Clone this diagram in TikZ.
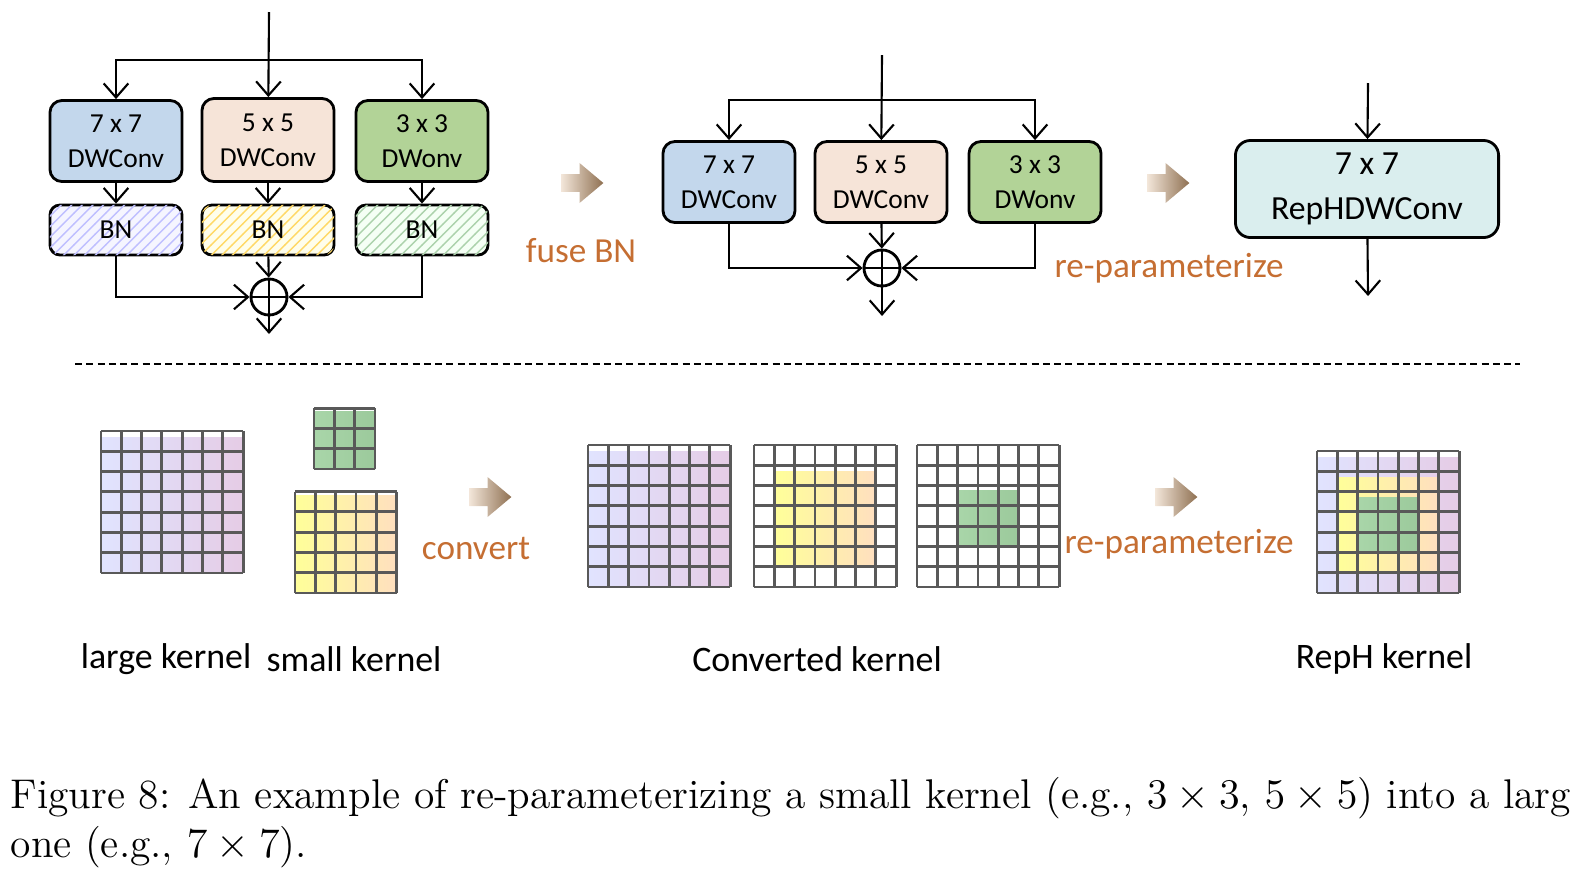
\documentclass[tikz,border=0pt]{standalone}
\usepackage{fontspec}
\newfontfamily\carl{Carlito}
\usepackage{tikz}
\usetikzlibrary{patterns}
\usetikzlibrary{positioning, arrows.meta, shapes.arrows, calc}

\definecolor{convblue}{HTML}{C3D7EC}
\definecolor{convpeach}{HTML}{F6E4D8}
\definecolor{convgreen}{HTML}{B2D397}
\definecolor{rephcol}{HTML}{DAEEEE}
\definecolor{labelorange}{HTML}{C56E32}
\definecolor{gridline}{HTML}{595959}

\tikzset{
    conv/.style={draw, thick, rounded corners=0.12cm, minimum width=1.32cm, minimum height=0.81cm, align=center, font=\carl\fontsize{7.8}{10}\selectfont},
    bn/.style={draw, thick, rounded corners=0.1cm, minimum width=1.32cm, minimum height=0.5cm, font=\carl\fontsize{7.8}{10}\selectfont},
    plus/.style={draw, thick, circle, minimum size=0.36cm, inner sep=0pt, path picture={
        \draw[thick] (path picture bounding box.north) -- (path picture bounding box.south)
                     (path picture bounding box.west) -- (path picture bounding box.east);}},
    flow/.style={-{Straight Barb[length=4pt,width=7pt]}, semithick},
    stage/.style={single arrow, minimum height=0.42cm, minimum width=0.4cm, single arrow head extend=0.07cm, single arrow tip angle=80, inner sep=0.05cm, left color=brown!20!white, right color=brown!60!black!80, draw=none},
    orange/.style={text=labelorange, font=\carl\fontsize{10}{12}\selectfont},
    caption/.style={font=\carl\fontsize{10.2}{12}\selectfont},
}

% kernel grid: lower-left corner, size n, cell size in px
\newcommand{\kernelgrid}[4]{%
    \foreach \k in {0,...,#3} {
        \draw[gridline, thick] ($(#1,#2)+(\k*#4,0)$) -- ++(0,-#3*#4);
        \draw[gridline, thick] ($(#1,#2)+(0,-\k*#4)$) -- ++(#3*#4,0);
    }
}

\begin{document}
\begin{tikzpicture}[x=0.01cm, y=-0.01cm]
    \useasboundingbox (0,0) rectangle (1571,878);
    % Training-time block
    \coordinate (inA) at (269,12);
    \node[conv, fill=convblue] (c7a) at (116,141) {7 x 7\\DWConv};
    \node[conv, fill=convpeach, minimum height=0.83cm] (c5a) at (268,140) {5 x 5\\DWConv};
    \node[conv, fill=convgreen] (c3a) at (422,141) {3 x 3\\DWonv};
    \node[bn, fill=blue!4, postaction={pattern=north east lines, pattern color=blue!25}] (b7) at (116,230) {BN};
    \node[bn, fill=yellow!8, postaction={pattern=north east lines, pattern color=yellow!50!orange!60}] (b5) at (268,230) {BN};
    \node[bn, fill=green!4, postaction={pattern=north east lines, pattern color=green!30!gray!50}] (b3) at (422,230) {BN};
    \node[plus] (pa) at (269,297) {};
    \coordinate (outA) at (269,334);
    \draw[flow] (inA) -- (c5a);
    \draw[flow] (inA|-0,60) coordinate (ja) -| (c7a);
    \draw[flow] (ja) -| (c3a);
    \draw[flow] (c7a) -- (b7);
    \draw[flow] (c5a) -- (b5);
    \draw[flow] (c3a) -- (b3);
    \draw[flow] (b5) -- (pa);
    \draw[flow] (b7) |- (pa);
    \draw[flow] (b3) |- (pa);
    \draw[flow] (pa) -- (outA);
    \node[stage] (s1) at (577,183) {};
    \node[orange] (l1) at (581,251) {fuse BN};
    % Fused block
    \coordinate (inB) at (882,55);
    \node[conv, fill=convblue] (c7b) at (729,182) {7 x 7\\DWConv};
    \node[conv, fill=convpeach] (c5b) at (881,182) {5 x 5\\DWConv};
    \node[conv, fill=convgreen] (c3b) at (1035,182) {3 x 3\\DWonv};
    \node[plus] (pb) at (882,268) {};
    \coordinate (outB) at (882,316);
    \draw[flow] (inB) -- (c5b);
    \draw[flow] (inB|-0,100) coordinate (jb) -| (c7b);
    \draw[flow] (jb) -| (c3b);
    \draw[flow] (c5b) -- (pb);
    \draw[flow] (c7b) |- (pb);
    \draw[flow] (c3b) |- (pb);
    \draw[flow] (pb) -- (outB);
    \node[stage] (s2) at (1163,183) {};
    \node[orange] (l2) at (1169,268) {re-parameterize};
    % Inference block
    \coordinate (inC) at (1368,83);
    \coordinate (outC) at (1368,296);
    \node[conv, fill=rephcol, minimum width=2.63cm, minimum height=0.97cm, rounded corners=0.15cm, font=\carl\fontsize{9.6}{13}\selectfont] (reph) at (1367,189) {7 x 7\\RepHDWConv};
    \draw[flow] (inC) -- (reph);
    \draw[flow] (reph) -- (outC);
    % separator
    \draw[dash pattern=on 2pt off 1.2pt] (75,364) -- (1520,364);
    % Kernels
    \shade[left color=cyan!10!blue!12, right color=violet!20] (101,573) rectangle (243,437);
    \kernelgrid{101}{573}{7}{20.3}
    \shade[left color=green!35!gray!50, right color=green!30!gray!60] (314,469) rectangle (375,411);
    \kernelgrid{314}{469}{3}{20.3}
    \shade[left color=yellow!40, right color=orange!25] (295,593) rectangle (397,495);
    \kernelgrid{295}{593}{5}{20.3}
    \node[stage] (s3) at (485,497) {};
    \node[orange] (l3) at (476,548) {convert};
    \shade[left color=cyan!10!blue!12, right color=violet!20] (588,587) rectangle (730,451);
    \kernelgrid{588}{587}{7}{20.3}
    \shade[left color=yellow!40, right color=orange!25] (774,567) rectangle (876,471);
    \kernelgrid{754}{587}{7}{20.3}
    \shade[left color=green!35!gray!50, right color=green!30!gray!60] (957,546) rectangle (1018,490);
    \kernelgrid{917}{587}{7}{20.3}
    \node[stage] (s4) at (1171,497) {};
    \node[orange] (l4) at (1179,544) {re-parameterize};
    \shade[left color=cyan!10!blue!12, right color=violet!20] (1317,593) rectangle (1459,457);
    \shade[left color=yellow!40, right color=orange!25] (1337,573) rectangle (1439,477);
    \shade[left color=green!35!gray!50, right color=green!30!gray!60] (1357,553) rectangle (1419,497);
    \kernelgrid{1317}{593}{7}{20.3}
    \node[caption] (k1) at (166,659) {large kernel};
    \node[caption] (k2) at (354,659) {small kernel};
    \node[caption] (k3) at (817,659) {Converted kernel};
    \node[caption] (k4) at (1384,659) {RepH kernel};
    % Figure caption
    \node[anchor=base west, inner sep=0pt, font=\fontsize{11.8}{14}\selectfont] (cap1) at (10,808) {Figure 8: An example of re-parameterizing a small kernel (e.g., $3\times3$, $5\times5$) into a large};
    \node[anchor=base west, inner sep=0pt, font=\fontsize{11.8}{14}\selectfont] (cap2) at (10,857) {one (e.g., $7\times7$).};
\end{tikzpicture}
\end{document}
